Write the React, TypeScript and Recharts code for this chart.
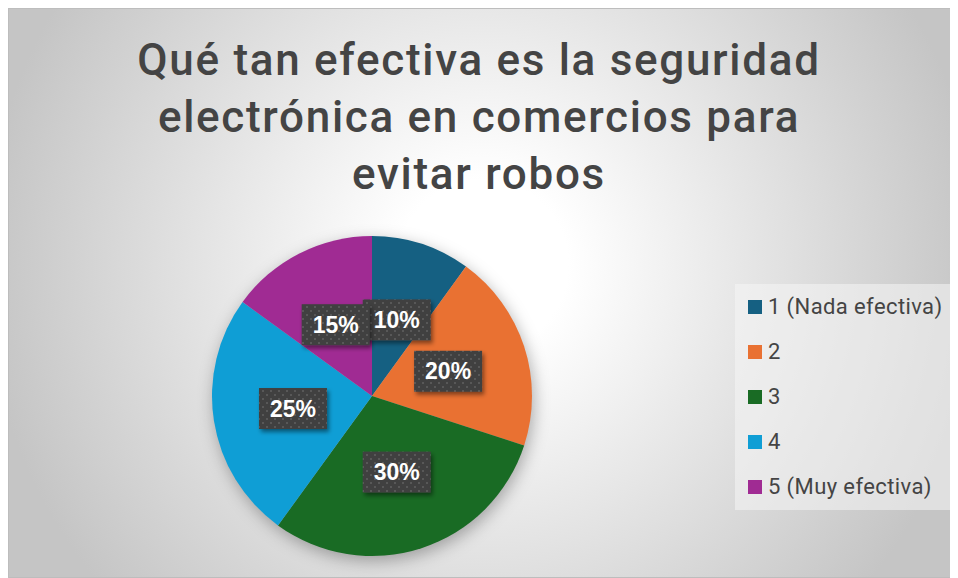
import React from 'react';
import { PieChart, Pie, Cell, Legend } from 'recharts';

const categories = ['1 (Nada efectiva)', '2', '3', '4', '5 (Muy efectiva)'];
const shares = [10, 20, 30, 25, 15];
const colors = ['#156082', '#E97132', '#196B24', '#0F9ED5', '#A02B93'];
const titleLines = [
  'Qué tan efectiva es la seguridad',
  'electrónica en comercios para',
  'evitar robos',
];

const data = categories.map((name, i) => ({ name, value: shares[i] }));

const RAD = Math.PI / 180;

const renderLabel = (props: any) => {
  const { cx, cy, midAngle, outerRadius, percent } = props;
  const r = outerRadius * 0.5;
  const x = cx + r * Math.cos(-midAngle * RAD);
  const y = cy + r * Math.sin(-midAngle * RAD);
  const w = 68;
  const h = 41;
  return (
    <g>
      <rect x={x - w / 2} y={y - h / 2} width={w} height={h} fill="url(#dotPattern)" filter="url(#boxShadow)" />
      <text
        x={x}
        y={y + 8}
        textAnchor="middle"
        fill="#ffffff"
        fontFamily="'Liberation Sans', Arial, sans-serif"
        fontWeight={700}
        fontSize={23}
      >
        {`${Math.round(percent * 100)}%`}
      </text>
    </g>
  );
};

const LegendBox = () => (
  <div
    style={{
      width: 217,
      height: 226,
      background: 'rgba(246,246,246,0.55)',
      boxSizing: 'border-box',
    }}
  >
    {categories.map((c, i) => (
      <div key={c} style={{ display: 'flex', alignItems: 'center', height: 45, paddingLeft: 13 }}>
        <span style={{ width: 14, height: 14, background: colors[i], display: 'inline-block', marginRight: 6 }} />
        <span
          style={{
            fontFamily: 'Roboto, sans-serif',
            fontSize: 22,
            color: '#444444',
            lineHeight: '22px',
            letterSpacing: 0.4,
          }}
        >
          {c}
        </span>
      </div>
    ))}
  </div>
);

export default function App() {
  return (
    <div
      style={{
        position: 'relative',
        width: 950,
        height: 570,
        boxSizing: 'border-box',
        border: '1px solid #bdbdbd',
        background: 'radial-gradient(circle at 50% 45%, #ffffff 15%, #c5c5c5 88%)',
      }}
    >
      <svg width={948} height={568} style={{ position: 'absolute', left: 0, top: 0 }}>
        <defs>
          <pattern id="dotPattern" width="8" height="8" patternUnits="userSpaceOnUse">
            <rect width="8" height="8" fill="#404040" />
            <rect x="1" y="1" width="2" height="2" fill="#585858" />
            <rect x="5" y="5" width="2" height="2" fill="#585858" />
          </pattern>
          <filter id="boxShadow" x="-20%" y="-20%" width="150%" height="160%">
            <feDropShadow dx="2" dy="3" stdDeviation="2" floodColor="#000" floodOpacity="0.45" />
          </filter>
        </defs>
        {titleLines.map((t, i) => (
          <text
            key={t}
            x={470}
            y={66 + i * 57}
            textAnchor="middle"
            fill="#444444"
            fontFamily="Roboto, sans-serif"
            fontWeight={500}
            fontSize={44}
            letterSpacing={1.7}
          >
            {t}
          </text>
        ))}
      </svg>
      <style>{`.pie-shadow .recharts-pie { filter: drop-shadow(2px 5px 8px rgba(0,0,0,0.3)); }`}</style>
      <div className="pie-shadow" style={{ position: 'absolute', left: 0, top: 0 }}>
        <PieChart width={948} height={568} margin={{ top: 0, right: 0, bottom: 0, left: 0 }}>
          <Pie
            data={data}
            dataKey="value"
            nameKey="name"
            cx={363}
            cy={387}
            outerRadius={160}
            startAngle={90}
            endAngle={-270}
            stroke="none"
            label={renderLabel}
            labelLine={false}
            isAnimationActive={false}
          >
            {data.map((d, i) => (
              <Cell key={d.name} fill={colors[i]} />
            ))}
          </Pie>
          <Legend
            content={() => <LegendBox />}
            wrapperStyle={{ left: 726, top: 275, width: 217, height: 226 }}
          />
        </PieChart>
      </div>
    </div>
  );
}
